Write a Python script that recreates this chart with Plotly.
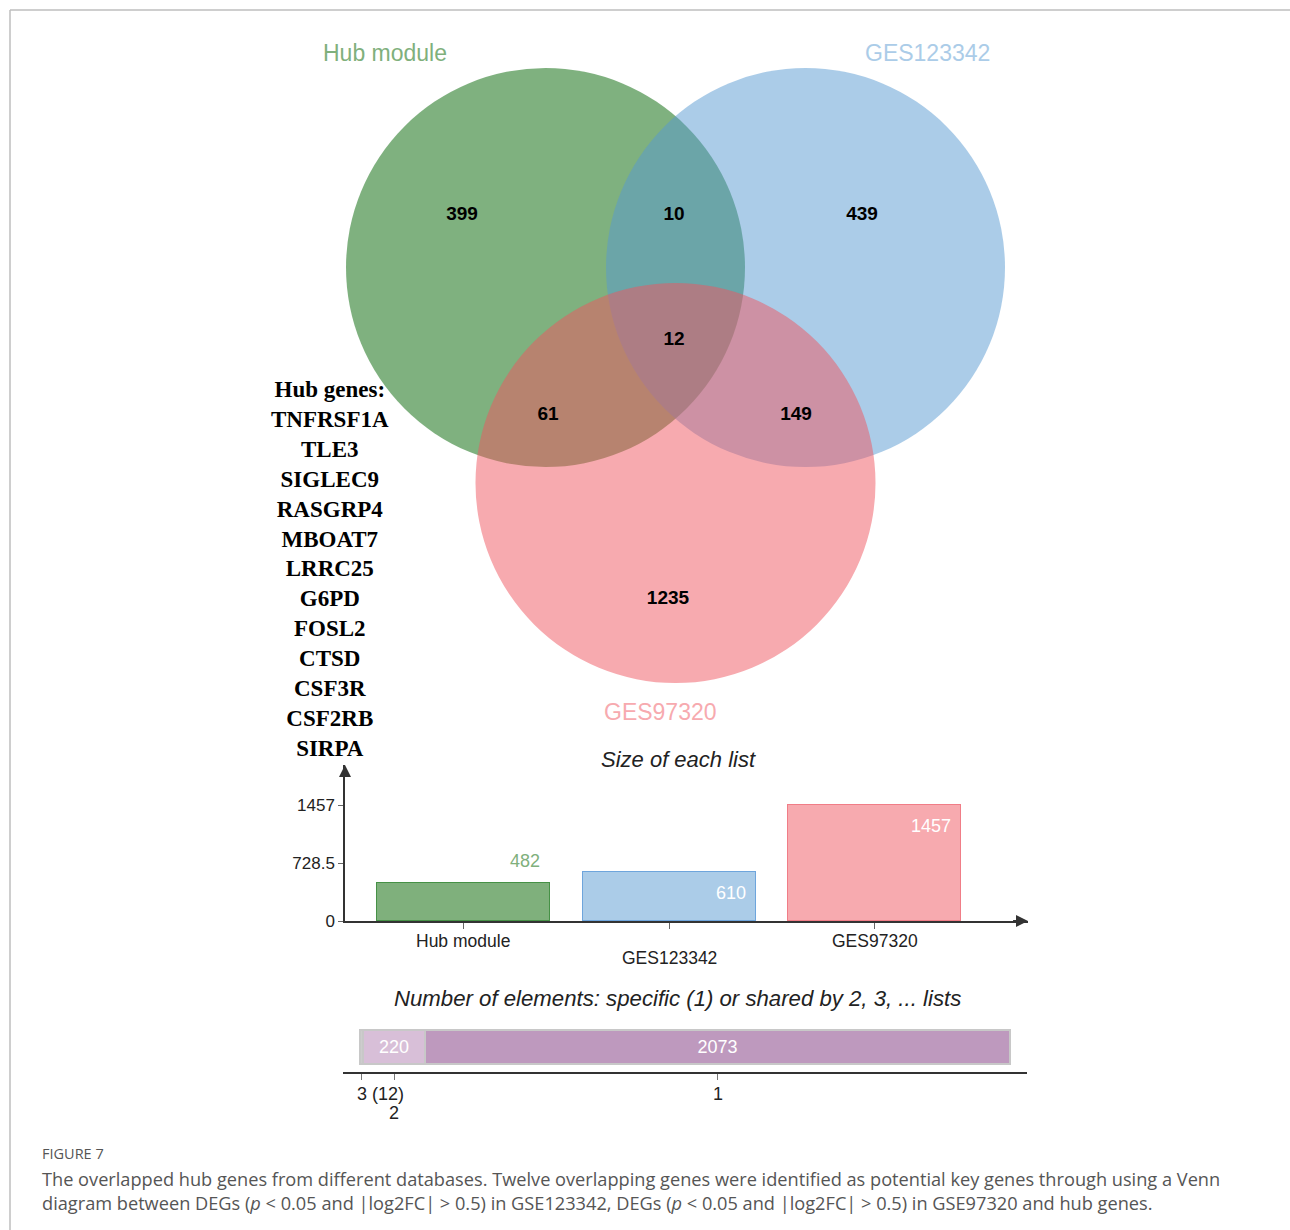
import plotly.graph_objects as go
from itertools import accumulate

# ---------------- data ----------------
set_names = ["Hub module", "GES123342", "GES97320"]
set_sizes = [482, 610, 1457]
region_names = ["Hub module only", "Hub module & GES123342", "GES123342 only", "All three",
                "Hub module & GES97320", "GES123342 & GES97320", "GES97320 only"]
region_counts = [399, 10, 439, 12, 61, 149, 1235]
shared_degree = ["3", "2", "1"]
shared_counts = [12, 220, 2073]
hub_genes = ["TNFRSF1A", "TLE3", "SIGLEC9", "RASGRP4", "MBOAT7", "LRRC25",
             "G6PD", "FOSL2", "CTSD", "CSF3R", "CSF2RB", "SIRPA"]
size_ticks = [0, 728.5, 1457]
size_tick_text = ["0", "728.5", "1457"]

# ---------------- layout helpers ----------------
W, H = 1290, 1230          # reference coordinate frame
FIG_H = 1240               # figure height (page is captured slightly taller)
def fx(p): return p / W
def fy(p): return 1 - p / H

SANS = "Liberation Sans, Arial, sans-serif"
SERIF = "Liberation Serif, Times New Roman, serif"

# Venn geometry (reference pixels)
circles = [(545.5, 267.5, 199.5), (805.5, 267.5, 199.5), (675.5, 483.0, 200.0)]
circle_fill = ["rgb(0,100,0)", "rgb(87,153,209)", "rgb(239,85,95)"]
set_label_pos = [(385, 53), (927, 53), (660, 712)]
set_label_col = ["rgb(127,176,124)", "rgb(171,204,232)", "rgb(247,170,175)"]
region_pos = [(462, 215), (674, 215), (862, 215), (674, 340), (548, 415), (796, 415), (668, 599)]

bar_fill = ["rgb(127,176,124)", "rgb(171,204,232)", "rgb(247,170,175)"]
bar_line = ["rgb(70,145,70)", "rgb(110,165,220)", "rgb(240,125,135)"]
label_inside = [False, True, True]

seg_fill = ["rgb(205,205,205)", "rgb(216,191,216)", "rgb(190,153,190)"]

fig = go.Figure()

# Venn region counts (on a full-page pixel axis)
fig.add_trace(go.Scatter(
    x=[p[0] for p in region_pos], y=[p[1] for p in region_pos],
    mode="text", text=[f"<b>{c}</b>" for c in region_counts],
    textfont=dict(family=SANS, size=19, color="black"),
    hoverinfo="skip", xaxis="x", yaxis="y", cliponaxis=False))

# Size of each list bars
px_per_cat = 205.5
bar_w = 173 / px_per_cat
fig.add_trace(go.Bar(
    x=list(range(len(set_names))), y=set_sizes, width=bar_w,
    marker=dict(color=bar_fill, line=dict(color=bar_line, width=1.5)),
    xaxis="x2", yaxis="y2", hoverinfo="skip"))

# Shared elements stacked bar
for i, (deg, cnt) in enumerate(zip(shared_degree, shared_counts)):
    fig.add_trace(go.Bar(
        x=[cnt], y=[0.5], orientation="h", width=0.68,
        marker=dict(color=seg_fill[i], line=dict(color="rgb(200,200,200)", width=2)),
        text=[str(cnt) if cnt > 100 else ""], textposition="inside",
        insidetextanchor="middle", textangle=0,
        textfont=dict(family=SANS, size=18, color="white"),
        xaxis="x3", yaxis="y3", hoverinfo="skip"))

# ---------------- shapes ----------------
shapes = []
for (cx, cy, r), col in zip(circles, circle_fill):
    shapes.append(dict(type="circle", xref="x", yref="y",
                       x0=cx - r, x1=cx + r, y0=cy - r, y1=cy + r,
                       fillcolor=col, opacity=0.5, line=dict(width=0), layer="below"))
# frame lines
shapes.append(dict(type="line", xref="paper", yref="paper", x0=fx(10), x1=1, y0=fy(10), y1=fy(10),
                   line=dict(color="rgb(190,190,190)", width=1.5)))
shapes.append(dict(type="line", xref="paper", yref="paper", x0=fx(10), x1=fx(10), y0=fy(10), y1=0,
                   line=dict(color="rgb(190,190,190)", width=1.5)))

# ---------------- annotations ----------------
ann = []
for name, (x, y), col in zip(set_names, set_label_pos, set_label_col):
    ann.append(dict(x=x, y=y, xref="x", yref="y", text=name, showarrow=False, yanchor="middle",
                    font=dict(family=SANS, size=23, color=col)))

ann.append(dict(x=330, y=569, xref="x", yref="y", text="<b>" + "<br>".join(["Hub genes:"] + hub_genes) + "</b>",
                showarrow=False, align="center", yanchor="middle",
                font=dict(family=SERIF, size=23, color="black")))

ann.append(dict(x=678, y=759, xref="x", yref="y", text="<i>Size of each list</i>", showarrow=False,
                yanchor="middle", font=dict(family=SANS, size=22, color="#222")))
ann.append(dict(x=677, y=998, xref="x", yref="y",
                text="<i>Number of elements: specific (1) or shared by 2, 3, ... lists</i>", showarrow=False,
                yanchor="middle", font=dict(family=SANS, size=22.2, color="#222")))

# category labels under the bars (staggered)
for i, name in enumerate(set_names):
    ann.append(dict(x=i, y=fy(941 + 17 * (i % 2)), xref="x2", yref="paper", text=name,
                    showarrow=False, yanchor="middle",
                    font=dict(family=SANS, size=17.5, color="#222")))

# bar value labels
for i, (v, inside) in enumerate(zip(set_sizes, label_inside)):
    ann.append(dict(x=i + bar_w / 2, y=v, xref="x2", yref="y2", text=str(v), showarrow=False,
                    xanchor="right", yanchor="top" if inside else "bottom",
                    xshift=-8, yshift=-9 if inside else 10,
                    font=dict(family=SANS, size=18,
                              color="white" if inside else bar_fill[i])))

# axis arrows for bar chart
x2_left = (345 - 463.5) / px_per_cat
x2_right = (1028 - 463.5) / px_per_cat
y2_top = (921 - 765) / 116 * 1457
ann.append(dict(x=x2_right, y=0, ax=x2_right - 0.08, ay=0, xref="x2", yref="y2", axref="x2", ayref="y2",
                showarrow=True, arrowhead=2, arrowsize=1.2, arrowwidth=2, arrowcolor="#333", text=""))
ann.append(dict(x=x2_left, y=y2_top, ax=x2_left, ay=y2_top - 150, xref="x2", yref="y2", axref="x2", ayref="y2",
                showarrow=True, arrowhead=2, arrowsize=1.2, arrowwidth=2, arrowcolor="#333", text=""))

# shared-bar tick labels
cum = list(accumulate(shared_counts))
centers = [c - n / 2 for c, n in zip(cum, shared_counts)]
seg_labels = [f"{shared_degree[0]} ({shared_counts[0]})", shared_degree[1], shared_degree[2]]
seg_label_y = [1094, 1113, 1094]
seg_anchor = ["left", "center", "center"]
seg_shift = [-7, 0, 0]
for c, t, py, a, s in zip(centers, seg_labels, seg_label_y, seg_anchor, seg_shift):
    ann.append(dict(x=c, y=fy(py), xref="x3", yref="paper", text=t, showarrow=False,
                    xanchor=a, yanchor="middle", xshift=s, font=dict(family=SANS, size=18, color="#222")))

# caption
CAP = "Open Sans, Noto Sans, sans-serif"
ann.append(dict(x=fx(42), y=fy(1153), xref="paper", yref="paper", xanchor="left", yanchor="middle",
                xshift=-2, showarrow=False,
                text="FIGURE 7", font=dict(family=CAP, size=14.5, color="#555")))
ann.append(dict(x=fx(42), y=fy(1179), xref="paper", yref="paper", xanchor="left", yanchor="middle",
                xshift=-2, showarrow=False,
                text="The overlapped hub genes from different databases. Twelve overlapping genes were identified as potential key genes through using a Venn",
                font=dict(family=CAP, size=18.2, color="#555")))
ann.append(dict(x=fx(42), y=fy(1203), xref="paper", yref="paper", xanchor="left", yanchor="middle",
                xshift=-2, showarrow=False,
                text="diagram between DEGs (<i>p</i> &lt; 0.05 and |log2FC| &gt; 0.5) in GSE123342, DEGs (<i>p</i> &lt; 0.05 and |log2FC| &gt; 0.5) in GSE97320 and hub genes.",
                font=dict(family=CAP, size=18.2, color="#555")))

x3_left = -17 / (650 / sum(shared_counts))
x3_right = (1027 - 360) / (650 / sum(shared_counts))

fig.update_layout(
    width=W, height=FIG_H, margin=dict(l=0, r=0, t=0, b=0),
    paper_bgcolor="white", plot_bgcolor="rgba(0,0,0,0)",
    showlegend=False, barmode="stack", bargap=0,
    shapes=shapes, annotations=ann,
    xaxis=dict(domain=[0, 1], range=[0, W], visible=False, fixedrange=True),
    yaxis=dict(domain=[0, 1], range=[H, 0], visible=False, fixedrange=True),
    xaxis2=dict(domain=[fx(345), fx(1028)], range=[x2_left, x2_right], anchor="y2",
                showline=True, linecolor="#333", linewidth=2, ticks="outside", ticklen=6,
                tickcolor="#666", tickwidth=1, showgrid=False, zeroline=False,
                tickvals=list(range(len(set_names))), showticklabels=False),
    yaxis2=dict(domain=[fy(921), fy(765)], range=[0, y2_top], anchor="x2",
                showline=True, linecolor="#333", linewidth=1.5, ticks="outside", ticklen=5,
                tickcolor="#666", showgrid=False, zeroline=False,
                tickvals=size_ticks, ticktext=size_tick_text,
                tickfont=dict(family=SANS, size=17, color="#222")),
    xaxis3=dict(domain=[fx(343), fx(1027)], range=[x3_left, x3_right], anchor="y3",
                showline=True, linecolor="#333", linewidth=2, ticks="outside", ticklen=6,
                tickcolor="#777", showgrid=False, zeroline=False, tickvals=centers,
                showticklabels=False),
    yaxis3=dict(domain=[fy(1072), fy(1022)], range=[0, 1], visible=False, anchor="x3"),
)

fig.write_html("out.html")
